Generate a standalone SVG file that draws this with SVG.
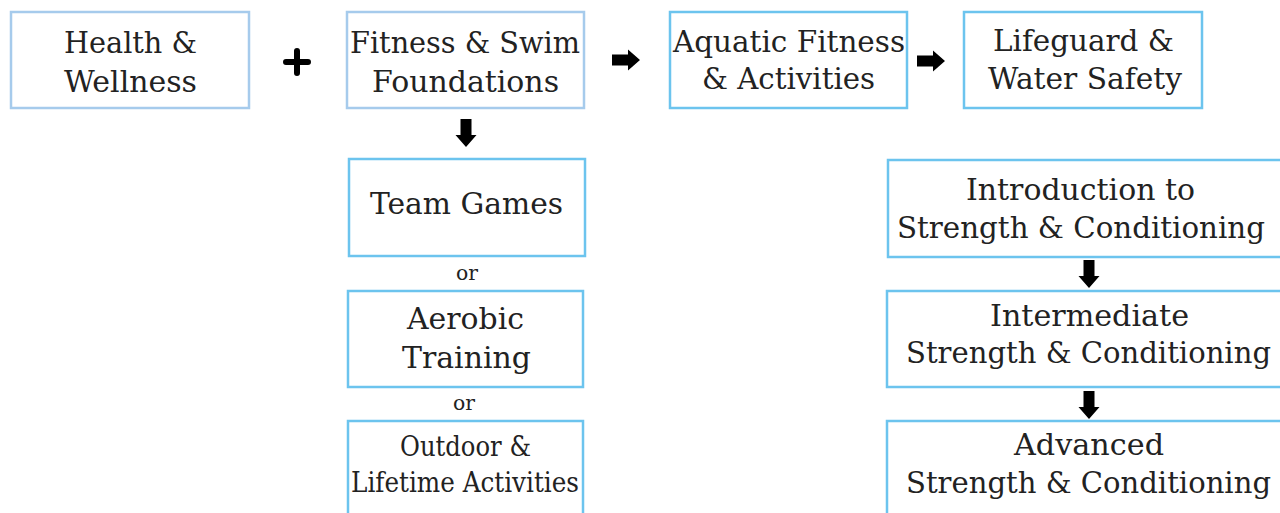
<svg xmlns="http://www.w3.org/2000/svg" width="1280" height="513" viewBox="0 0 1280 513">
<style>
.b1{fill:#fff;stroke:#a6cbec;stroke-width:2.5}
.b2{fill:#fff;stroke:#6cc4ee;stroke-width:2.5}
text{font-family:"DejaVu Serif","Liberation Serif",serif;fill:#222;font-size:30px}
.sm{font-size:27px}
.or{font-size:20px}
.arr{fill:#000}
</style>
<defs>
<path id="ar" d="M0,-5.5 H16 V-10.5 L28,0 L16,10.5 V5.5 H0 Z"/>
</defs>
<rect width="1280" height="513" fill="#fff"/>
<g id="n-health">
<rect class="b1" x="11" y="12" width="238" height="96"/>
<text x="64" y="53" textLength="133" lengthAdjust="spacingAndGlyphs">Health &amp;</text>
<text x="64" y="92" textLength="133" lengthAdjust="spacingAndGlyphs">Wellness</text>
</g>
<g id="n-fitness">
<rect class="b1" x="347" y="12" width="237" height="96"/>
<text x="350" y="53" textLength="230" lengthAdjust="spacingAndGlyphs">Fitness &amp; Swim</text>
<text x="372" y="92" textLength="187" lengthAdjust="spacingAndGlyphs">Foundations</text>
</g>
<g id="n-aquatic">
<rect class="b2" x="670" y="12" width="237" height="96"/>
<text x="673" y="52" textLength="232" lengthAdjust="spacingAndGlyphs">Aquatic Fitness</text>
<text x="702" y="89" textLength="173" lengthAdjust="spacingAndGlyphs">&amp; Activities</text>
</g>
<g id="n-lifeguard">
<rect class="b2" x="964" y="12" width="238" height="96"/>
<text x="993" y="51" textLength="181" lengthAdjust="spacingAndGlyphs">Lifeguard &amp;</text>
<text x="988" y="89" textLength="194" lengthAdjust="spacingAndGlyphs">Water Safety</text>
</g>
<g id="n-team">
<rect class="b2" x="349" y="159" width="236" height="97"/>
<text x="370" y="214" textLength="193" lengthAdjust="spacingAndGlyphs">Team Games</text>
</g>
<text class="or" x="456" y="280" textLength="22" lengthAdjust="spacingAndGlyphs">or</text>
<g id="n-aerobic">
<rect class="b2" x="348" y="291" width="235" height="96"/>
<text x="407" y="329" textLength="117" lengthAdjust="spacingAndGlyphs">Aerobic</text>
<text x="402" y="368" textLength="129" lengthAdjust="spacingAndGlyphs">Training</text>
</g>
<text class="or" x="453" y="410" textLength="22" lengthAdjust="spacingAndGlyphs">or</text>
<g id="n-outdoor">
<rect class="b2" x="348" y="421" width="235" height="100"/>
<text class="sm" x="400" y="456" textLength="131" lengthAdjust="spacingAndGlyphs">Outdoor &amp;</text>
<text class="sm" x="351" y="492" textLength="228" lengthAdjust="spacingAndGlyphs">Lifetime Activities</text>
</g>
<g id="n-intro">
<rect class="b2" x="888" y="160" width="400" height="97"/>
<text x="897" y="238" textLength="368" lengthAdjust="spacingAndGlyphs">Strength &amp; Conditioning</text>
<text x="966" y="200" textLength="229" lengthAdjust="spacingAndGlyphs">Introduction to</text>
</g>
<g id="n-intermediate">
<rect class="b2" x="887" y="291" width="400" height="96"/>
<text x="990" y="326" textLength="199" lengthAdjust="spacingAndGlyphs">Intermediate</text>
<text x="906" y="363" textLength="365" lengthAdjust="spacingAndGlyphs">Strength &amp; Conditioning</text>
</g>
<g id="n-advanced">
<rect class="b2" x="887" y="421" width="400" height="100"/>
<text x="1014" y="455" textLength="150" lengthAdjust="spacingAndGlyphs">Advanced</text>
<text x="906" y="493" textLength="365" lengthAdjust="spacingAndGlyphs">Strength &amp; Conditioning</text>
</g>
<g id="connectors">
<path d="M297,51 V73 M286,62 H308" stroke="#000" stroke-width="6" stroke-linecap="round" fill="none"/>
<use href="#ar" class="arr" transform="translate(612,60)"/>
<use href="#ar" class="arr" transform="translate(917,61)"/>
<use href="#ar" class="arr" transform="translate(466,119) rotate(90)"/>
<use href="#ar" class="arr" transform="translate(1089,260) rotate(90)"/>
<use href="#ar" class="arr" transform="translate(1089,391) rotate(90)"/>
</g>
</svg>
